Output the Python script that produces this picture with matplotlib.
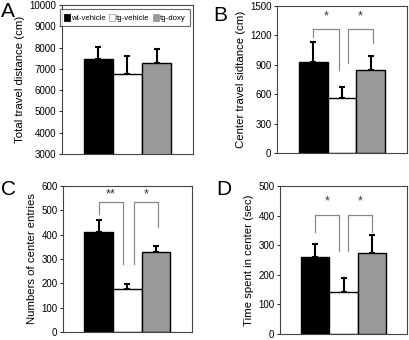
import matplotlib.pyplot as plt

plt.rcParams['font.family'] = ['Liberation Sans', 'DejaVu Sans']

groups = ['wt-vehicle', 'tg-vehicle', 'tg-doxy']
colors = ['black', 'white', '#999999']

travel = [7450, 6780, 7290]
travel_err = [600, 830, 630]
center_dist = [925, 558, 844]
center_dist_err = [205, 112, 149]
entries = [410, 176, 327]
entries_err = [52, 20, 26]
center_time = [261, 143, 273]
center_time_err = [44, 45, 63]


def bars(ax, vals, errs, ylim, step, label):
    x = range(len(vals))
    ax.bar(x, vals, width=1.0, color=colors, edgecolor='black', linewidth=1.0, zorder=2)
    ax.errorbar(x, vals, yerr=[[0] * len(errs), errs], fmt='none', ecolor='black',
                elinewidth=1.5, capsize=2.2, capthick=1.5, zorder=1)
    ax.set_xlim(-1.25, 3.25)
    ax.set_ylim(*ylim)
    ax.set_yticks(range(ylim[0], ylim[1] + 1, step))
    ax.set_xticks([])
    ax.tick_params(axis='y', labelsize=7, length=2, width=0.6, pad=2)
    for s in ax.spines.values():
        s.set_linewidth(0.8)
        s.set_color('#444444')
    ax.set_ylabel(label, fontsize=8.2, labelpad=3)


def bracket(ax, x0, x1, y, y0, y1, text, ty):
    ax.plot([x0, x0, x1, x1], [y0, y, y, y1], color='#888888', lw=0.9, zorder=3)
    ax.text((x0 + x1) / 2, ty, text, ha='center', va='center', fontsize=9, color='#333333')


W, H = 410, 340
def rect(l, r, t, b):
    return [l / W, (H - b) / H, (r - l) / W, (b - t) / H]

fig = plt.figure(figsize=(4.1, 3.4), dpi=100)

axA = fig.add_axes(rect(62, 193, 5, 154))
bars(axA, travel, travel_err, (3000, 10000), 1000, 'Total travel distance (cm)')
edges = ['black', '#aaaaaa', '#999999']
handles = [plt.Rectangle((0, 0), 1, 1, facecolor=c, edgecolor=e, linewidth=0.6)
           for c, e in zip(colors, edges)]
axA.legend(handles, groups, loc='upper center', ncol=3, fontsize=5.6, frameon=True,
           fancybox=False, edgecolor='#444444', handlelength=0.8, handleheight=1.0,
           handletextpad=0.1, columnspacing=0.45, borderpad=0.55, borderaxespad=0.0,
           bbox_to_anchor=(0.48, 0.97)).get_frame().set_linewidth(0.8)

axB = fig.add_axes(rect(277, 407, 6, 153))
bars(axB, center_dist, center_dist_err, (0, 1500), 300, 'Center travel sidtance (cm)')
bracket(axB, 0, 0.88, 1265, 1180, 850, '*', 1390)
bracket(axB, 1.22, 2.06, 1265, 920, 1120, '*', 1390)

axC = fig.add_axes(rect(63, 192, 186, 332))
bars(axC, entries, entries_err, (0, 600), 100, 'Numbers of center entries')
bracket(axC, 0, 0.85, 535, 484, 281, '**', 565)
bracket(axC, 1.23, 2.05, 535, 281, 430, '*', 565)

axD = fig.add_axes(rect(280, 407, 186, 334))
bars(axD, center_time, center_time_err, (0, 500), 100, 'Time spent in center (sec)')
bracket(axD, 0, 0.84, 401, 345, 282, '*', 447)
bracket(axD, 1.16, 2.0, 401, 282, 345, '*', 447)

for letter, x, y in [('A', 1, 2), ('B', 213, 6), ('C', 1, 180), ('D', 216, 180)]:
    fig.text(x / W, 1 - y / H, letter, fontsize=15, va='top', ha='left')

fig.savefig('out.png', dpi=100)
